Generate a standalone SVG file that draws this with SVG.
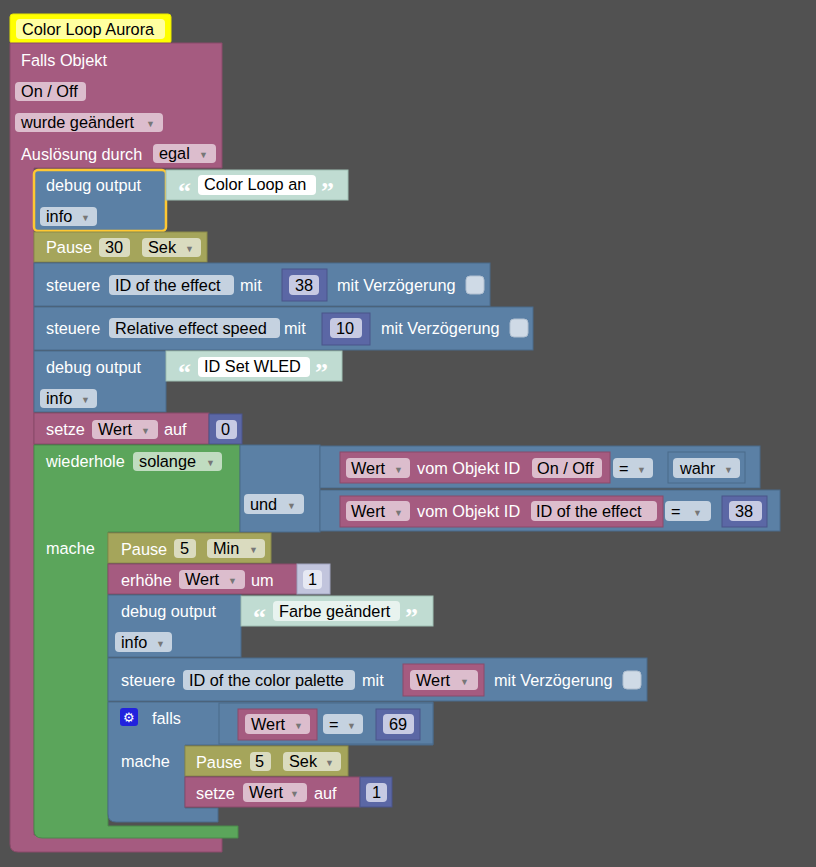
<svg xmlns="http://www.w3.org/2000/svg" width="816" height="867" viewBox="0 0 816 867">
<style>
text{font-family:"Liberation Sans",Arial,sans-serif;font-size:16.3px}
.w{fill:#fff}.k{fill:#000}
.pk{fill:#a55b80;stroke:#8a4a6a;stroke-width:1}
.bl{fill:#5b80a5;stroke:#4a6a8a;stroke-width:1}
.ol{fill:#a5a55b;stroke:#8a8a4a;stroke-width:1}
.gr{fill:#5ba55b;stroke:#4a8a4a;stroke-width:1}
.tx{fill:#c0dcd2;stroke:#a0c0b4;stroke-width:1}
.nm{fill:#5b67a5;stroke:#4a548a;stroke-width:1}
.nl{fill:#c2c5dd;stroke:#a0a4c0;stroke-width:1}
.ppk{fill:#dcbdcd}.pbl{fill:#c5d2e0}.pol{fill:#dadbbf}.pwh{fill:#fff}.pnm{fill:#c7cae3}
.q{fill:#fff;font-size:26px;font-weight:bold;font-family:"Liberation Serif",serif}
.ar{fill:#777;font-size:9px}
.cb{fill:#cfdae6;stroke:#b0bfd0}
</style>
<rect width="816" height="867" fill="#515151"/>
<g id="comment">
<rect x="10" y="14" width="161" height="30" rx="3" fill="#ffff00" stroke="#e6e600"/>
<rect x="16" y="19" width="149" height="20" rx="4" fill="#ffffa0"/>
<text x="22" y="35" class="k">Color Loop Aurora</text>
</g>
<g id="trigger">
<path class="pk" d="M10,43 H222 V168 H34 V835 H222 V852 H18 Q10,852 10,844 Z"/>
<text x="21" y="66" class="w">Falls Objekt</text>
<rect x="15" y="82" width="71" height="19" rx="4" class="ppk"/><text x="21" y="97" class="k">On / Off</text>
<rect x="15" y="113" width="148" height="19" rx="4" class="ppk"/><text x="21" y="128" class="k">wurde geändert</text><text x="146" y="127" class="ar">▼</text>
<text x="21" y="160" class="w">Auslösung durch</text>
<rect x="153" y="144" width="63" height="19" rx="4" class="ppk"/><text x="159" y="159" class="k">egal</text><text x="199" y="158" class="ar">▼</text>
</g>
<g id="debug1">
<rect x="34" y="170" width="132" height="61" rx="4" fill="#5b80a5" stroke="#ffc832" stroke-width="2.5"/>
<text x="46" y="191" class="w">debug output</text>
<rect x="40" y="207" width="57" height="19" rx="4" class="pbl"/><text x="46" y="222" class="k">info</text><text x="81" y="221" class="ar">▼</text>
<rect x="166" y="170" width="182" height="30" class="tx"/>
<text x="178" y="200" class="q">“</text>
<rect x="198" y="175" width="118" height="20" rx="4" class="pwh"/><text x="204" y="190" class="k">Color Loop an</text>
<text x="321" y="200" class="q">”</text>
</g>
<g id="pause1">
<rect x="34" y="232" width="173" height="30" class="ol"/>
<text x="46" y="253" class="w">Pause</text>
<rect x="99" y="238" width="31" height="19" rx="4" class="pol"/><text x="105" y="253" class="k">30</text>
<rect x="142" y="238" width="59" height="19" rx="4" class="pol"/><text x="148" y="253" class="k">Sek</text><text x="185" y="252" class="ar">▼</text>
</g>
<g id="steuere1">
<rect x="34" y="263" width="456" height="43" class="bl"/>
<text x="46" y="291" class="w">steuere</text>
<rect x="109" y="275" width="125" height="20" rx="4" class="pbl"/><text x="115" y="291" class="k">ID of the effect</text>
<text x="240" y="291" class="w">mit</text>
<rect x="282" y="269" width="45" height="32" class="nm"/>
<rect x="289" y="275" width="30" height="20" rx="4" class="pnm"/><text x="295" y="291" class="k">38</text>
<text x="337" y="291" class="w">mit Verzögerung</text>
<rect x="466" y="276" width="18" height="18" rx="4" class="cb"/>
</g>
<g id="steuere2">
<rect x="34" y="307" width="499" height="43" class="bl"/>
<text x="46" y="334" class="w">steuere</text>
<rect x="109" y="318" width="171" height="20" rx="4" class="pbl"/><text x="115" y="334" class="k">Relative effect speed</text>
<text x="284" y="334" class="w">mit</text>
<rect x="322" y="313" width="48" height="32" class="nm"/>
<rect x="330" y="318" width="32" height="20" rx="4" class="pnm"/><text x="336" y="334" class="k">10</text>
<text x="381" y="334" class="w">mit Verzögerung</text>
<rect x="510" y="319" width="18" height="18" rx="4" class="cb"/>
</g>
<g id="debug2">
<rect x="34" y="351" width="132" height="61" class="bl"/>
<text x="46" y="373" class="w">debug output</text>
<rect x="40" y="389" width="57" height="19" rx="4" class="pbl"/><text x="46" y="404" class="k">info</text><text x="81" y="403" class="ar">▼</text>
<rect x="166" y="351" width="176" height="30" class="tx"/>
<text x="178" y="381" class="q">“</text>
<rect x="198" y="357" width="112" height="20" rx="4" class="pwh"/><text x="204" y="372" class="k">ID Set WLED</text>
<text x="315" y="381" class="q">”</text>
</g>
<g id="setze1">
<rect x="34" y="413" width="175" height="31" class="pk"/>
<text x="46" y="435" class="w">setze</text>
<rect x="92" y="420" width="66" height="19" rx="4" class="ppk"/><text x="98" y="435" class="k">Wert</text><text x="141" y="434" class="ar">▼</text>
<text x="164" y="435" class="w">auf</text>
<rect x="209" y="414" width="33" height="30" class="nm"/>
<rect x="216" y="420" width="21" height="19" rx="4" class="pnm"/><text x="221" y="435" class="k">0</text>
</g>
<g id="while">
<path class="gr" d="M34,445 H240 V532 H108 V826 H238 V838 H42 Q34,838 34,830 Z"/>
<text x="46" y="467" class="w">wiederhole</text>
<rect x="133" y="452" width="89" height="19" rx="4" fill="#c0dcc0"/><text x="139" y="467" class="k">solange</text><text x="206" y="466" class="ar">▼</text>
<text x="46" y="554" class="w">mache</text>
</g>
<g id="und">
<rect x="240" y="445" width="80" height="87" class="bl"/>
<rect x="244" y="494" width="60" height="20" rx="4" class="pbl"/><text x="250" y="510" class="k">und</text><text x="287" y="509" class="ar">▼</text>
<rect x="320" y="446" width="440" height="42" class="bl"/>
<rect x="340" y="452" width="270" height="31" class="pk"/>
<rect x="346" y="458" width="64" height="20" rx="4" class="ppk"/><text x="351" y="474" class="k">Wert</text><text x="394" y="473" class="ar">▼</text>
<text x="417" y="474" class="w">vom Objekt ID</text>
<rect x="532" y="458" width="70" height="20" rx="4" class="ppk"/><text x="537" y="474" class="k">On / Off</text>
<rect x="613" y="458" width="40" height="20" rx="4" class="pbl"/><text x="619" y="474" class="k">=</text><text x="637" y="473" class="ar">▼</text>
<rect x="668" y="452" width="77" height="31" class="bl"/>
<rect x="673" y="458" width="67" height="20" rx="4" class="pbl"/><text x="680" y="474" class="k">wahr</text><text x="724" y="473" class="ar">▼</text>
<rect x="320" y="490" width="460" height="41" class="bl"/>
<rect x="340" y="496" width="323" height="31" class="pk"/>
<rect x="346" y="501" width="64" height="20" rx="4" class="ppk"/><text x="351" y="517" class="k">Wert</text><text x="394" y="516" class="ar">▼</text>
<text x="417" y="517" class="w">vom Objekt ID</text>
<rect x="531" y="501" width="126" height="20" rx="4" class="ppk"/><text x="536" y="517" class="k">ID of the effect</text>
<rect x="665" y="501" width="46" height="20" rx="4" class="pbl"/><text x="671" y="517" class="k">=</text><text x="693" y="516" class="ar">▼</text>
<rect x="722" y="496" width="45" height="31" class="nm"/>
<rect x="729" y="501" width="33" height="20" rx="4" class="pnm"/><text x="735" y="517" class="k">38</text>
</g>
<g id="pause2">
<rect x="108" y="533" width="163" height="30" class="ol"/>
<text x="121" y="555" class="w">Pause</text>
<rect x="174" y="539" width="22" height="19" rx="4" class="pol"/><text x="180" y="554" class="k">5</text>
<rect x="207" y="539" width="58" height="19" rx="4" class="pol"/><text x="213" y="554" class="k">Min</text><text x="249" y="553" class="ar">▼</text>
</g>
<g id="erhoehe">
<rect x="108" y="564" width="189" height="30" class="pk"/>
<text x="121" y="586" class="w">erhöhe</text>
<rect x="179" y="570" width="66" height="19" rx="4" class="ppk"/><text x="185" y="585" class="k">Wert</text><text x="228" y="584" class="ar">▼</text>
<text x="251" y="586" class="w">um</text>
<rect x="297" y="564" width="33" height="30" class="nl"/>
<rect x="303" y="570" width="19" height="19" rx="4" fill="#e6e8f3"/><text x="308" y="585" class="k">1</text>
</g>
<g id="debug3">
<rect x="108" y="595" width="133" height="62" class="bl"/>
<text x="121" y="617" class="w">debug output</text>
<rect x="115" y="632" width="57" height="20" rx="4" class="pbl"/><text x="121" y="648" class="k">info</text><text x="156" y="647" class="ar">▼</text>
<rect x="241" y="596" width="192" height="30" class="tx"/>
<text x="253" y="626" class="q">“</text>
<rect x="273" y="601" width="127" height="20" rx="4" fill="#e8f3ef"/><text x="279" y="617" class="k">Farbe geändert</text>
<text x="405" y="626" class="q">”</text>
</g>
<g id="steuere3">
<rect x="108" y="658" width="539" height="43" class="bl"/>
<text x="121" y="686" class="w">steuere</text>
<rect x="183" y="670" width="172" height="20" rx="4" class="pbl"/><text x="189" y="686" class="k">ID of the color palette</text>
<text x="362" y="686" class="w">mit</text>
<rect x="403" y="664" width="81" height="32" class="pk"/>
<rect x="410" y="670" width="68" height="20" rx="4" class="ppk"/><text x="416" y="686" class="k">Wert</text><text x="460" y="685" class="ar">▼</text>
<text x="494" y="686" class="w">mit Verzögerung</text>
<rect x="623" y="671" width="18" height="18" rx="4" class="cb"/>
</g>
<g id="falls">
<path class="bl" d="M108,702 H433 V745 H185 V808 H218 V822 H116 Q108,822 108,814 Z"/>
<rect x="120" y="708" width="18" height="18" rx="3" fill="#2222dd"/><text x="123" y="722" style="font-size:13px" class="w">⚙</text>
<text x="152" y="724" class="w">falls</text>
<rect x="219" y="703" width="214" height="41" class="bl"/>
<rect x="238" y="709" width="79" height="31" class="pk"/>
<rect x="245" y="714" width="65" height="20" rx="4" class="ppk"/><text x="251" y="730" class="k">Wert</text><text x="294" y="729" class="ar">▼</text>
<rect x="323" y="714" width="40" height="20" rx="4" class="pbl"/><text x="329" y="730" class="k">=</text><text x="347" y="729" class="ar">▼</text>
<rect x="376" y="709" width="44" height="31" class="nm"/>
<rect x="383" y="714" width="31" height="20" rx="4" class="pnm"/><text x="389" y="730" class="k">69</text>
<text x="121" y="767" class="w">mache</text>
</g>
<g id="pause3">
<rect x="185" y="746" width="163" height="30" class="ol"/>
<text x="196" y="768" class="w">Pause</text>
<rect x="250" y="752" width="21" height="19" rx="4" class="pol"/><text x="255" y="767" class="k">5</text>
<rect x="283" y="752" width="58" height="19" rx="4" class="pol"/><text x="289" y="767" class="k">Sek</text><text x="325" y="766" class="ar">▼</text>
</g>
<g id="setze2">
<rect x="185" y="777" width="175" height="30" class="pk"/>
<text x="196" y="799" class="w">setze</text>
<rect x="243" y="783" width="64" height="19" rx="4" class="ppk"/><text x="249" y="798" class="k">Wert</text><text x="290" y="797" class="ar">▼</text>
<text x="314" y="799" class="w">auf</text>
<rect x="360" y="777" width="32" height="30" class="nm"/>
<rect x="366" y="783" width="21" height="19" rx="4" class="pnm"/><text x="372" y="798" class="k">1</text>
</g>
<g id="connectors"></g>
</svg>
